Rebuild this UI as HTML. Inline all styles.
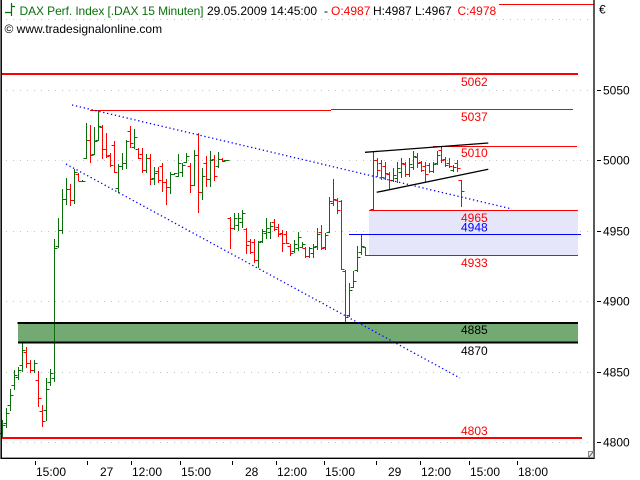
<!DOCTYPE html>
<html><head><meta charset="utf-8"><style>
html,body{margin:0;padding:0;background:#fff;}
svg{display:block;}
text{font-family:"Liberation Sans",Arial,sans-serif;font-size:12px;}
</style></head><body>
<svg width="640" height="480" viewBox="0 0 640 480" xmlns="http://www.w3.org/2000/svg">
<rect x="0" y="0" width="640" height="480" fill="#fff"/>
<!-- grid -->
<g stroke="#c4c4c4" stroke-width="1" stroke-dasharray="1 6">
<line x1="6" y1="19.5" x2="591" y2="19.5"/>
<line x1="6" y1="90.5" x2="591" y2="90.5"/>
<line x1="6" y1="160.5" x2="591" y2="160.5"/>
<line x1="6" y1="231.5" x2="591" y2="231.5"/>
<line x1="6" y1="301.5" x2="591" y2="301.5"/>
<line x1="6" y1="372.5" x2="591" y2="372.5"/>
<line x1="6" y1="442.5" x2="591" y2="442.5"/>
</g>
<!-- lavender zone -->
<rect x="369" y="210.5" width="209" height="45" fill="#e6e6fa"/>
<!-- green zone -->
<rect x="18" y="323" width="560" height="19.5" fill="#73a973"/>
<!-- horizontal lines -->
<line x1="2" y1="74" x2="578" y2="74" stroke="#f00" stroke-width="2"/>
<line x1="90" y1="110.5" x2="331" y2="110.5" stroke="#f00" stroke-width="1"/>
<line x1="331" y1="109.5" x2="573" y2="109.5" stroke="#f00" stroke-width="1"/>
<line x1="433" y1="146.5" x2="577" y2="146.5" stroke="#f00" stroke-width="1"/>
<line x1="369" y1="210.5" x2="578" y2="210.5" stroke="#f00" stroke-width="1"/>
<line x1="368" y1="255.5" x2="578" y2="255.5" stroke="#f00" stroke-width="1"/>
<line x1="2" y1="438" x2="582" y2="438" stroke="#f00" stroke-width="2"/>
<line x1="499" y1="4.5" x2="594" y2="4.5" stroke="#f00" stroke-width="1"/>
<!-- bars -->
<path fill="none" stroke="#0a6e0a" stroke-width="1" d="M2.5 420V438M-.5 433.5h3m0 -8h3M6.5 408V428M3.5 423.5h3m0 -10h3M10.5 389V411M7.5 405.5h3m0 -10h3M14.5 370V390M11.5 385.5h3m0 -10h3M18.5 367V380M15.5 377.5h3m0 -7h3M22.5 343V372M19.5 365.5h3m0 -15h3M34.5 360V373M31.5 370.5h3m0 -7h3M46.5 378V421M43.5 410.5h3m0 -21h3M50.5 369V386M47.5 382.5h3m0 -9h3M54.5 239V382M51.5 378.5h3m0 -130h3M58.5 218V248M55.5 246.5h3m0 -16h3M62.5 189V234M59.5 230.5h3m0 -31h3M66.5 178V205M63.5 199.5h3m0 -10h3M74.5 169V204M71.5 200.5h3m0 -28h3M82.5 180V182M79.5 181.5h6M86.5 123V159M83.5 158.5h3m0 -18h3M94.5 127V155M91.5 154.5h3m0 -13h3M98.5 111V141M95.5 140.5h3m0 -14h3M118.5 164V193M115.5 188.5h3m0 -22h3M122.5 153V170M119.5 166.5h3m0 -3h3M126.5 140V169M123.5 163.5h3m0 -22h3M134.5 129V149M131.5 147.5h3m0 -10h3M146.5 154V173M143.5 170.5h3m0 -12h3M154.5 167V185M151.5 178.5h3m0 -5h3M170.5 172V194M167.5 187.5h3m0 -13h3M174.5 173V175M171.5 174.5h3m0 -1h3M178.5 154V177M175.5 176.5h3m0 -13h3M182.5 163V177M179.5 172.5h3m0 -7h3M186.5 153V163M183.5 162.5h3m0 -6h3M194.5 150V186M191.5 185.5h3m0 -30h3M202.5 168V200M199.5 192.5h3m0 -16h3M210.5 151V187M207.5 179.5h3m0 -19h3M218.5 152V168M215.5 166.5h3m0 -7h3M226.5 160V161M223.5 160.5h6M234.5 213V230M231.5 228.5h3m0 -10h3M238.5 213V231M235.5 225.5h3m0 -7h3M242.5 210V228M239.5 222.5h3m0 -9h3M258.5 241V268M255.5 260.5h3m0 -18h3M262.5 229V243M259.5 241.5h3m0 -10h3M266.5 218V239M263.5 233.5h3m0 -5h3M270.5 222V239M267.5 232.5h3m0 -6h3M294.5 240V253M291.5 251.5h3m0 -7h3M298.5 232V251M295.5 248.5h3m0 -11h3M302.5 242V248M299.5 247.5h3m0 -3h3M309.5 247V258M306.5 256.5h3m0 -8h3M313.5 244V258M310.5 253.5h3m0 -6h3M317.5 228V250M314.5 246.5h3m0 -12h3M325.5 233V250M322.5 247.5h3m0 -12h3M329.5 197V233M326.5 232.5h3m0 -31h3M333.5 179V206M330.5 203.5h3m0 -4h3M349.5 283V317M346.5 315.5h3m0 -25h3M353.5 271V288M350.5 287.5h3m0 -6h3M357.5 246V272M354.5 270.5h3m0 -13h3M361.5 235V255M358.5 252.5h3m0 -6h3M373.5 152V210M370.5 209.5h3m0 -49h3M393.5 168V182M390.5 180.5h3m0 -5h3M397.5 162V183M394.5 178.5h3m0 -10h3M401.5 158V178M398.5 172.5h3m0 -9h3M409.5 158V177M406.5 174.5h3m0 -10h3M413.5 151V170M410.5 167.5h3m0 -11h3M433.5 162V173M430.5 171.5h3m0 -7h3M437.5 151V165M434.5 163.5h3m0 -8h3M453.5 165V172M450.5 170.5h3m0 -3h3"/>
<path fill="none" stroke="#f00" stroke-width="1" d="M26.5 347V368M23.5 352.5h3m0 11h3M30.5 360V373M27.5 363.5h3m0 7h3M38.5 371V407M35.5 380.5h3m0 18h3M42.5 405V427M39.5 411.5h3m0 10h3M70.5 184V206M67.5 189.5h3m0 11h3M78.5 173V181M75.5 174.5h3m0 7h3M90.5 125V163M87.5 140.5h3m0 15h3M102.5 125V159M99.5 127.5h3m0 22h3M106.5 133V158M103.5 149.5h3m0 7h3M110.5 153V167M107.5 155.5h3m0 10h3M114.5 141V173M111.5 145.5h3m0 27h3M130.5 126V148M127.5 131.5h3m0 12h3M138.5 148V159M135.5 149.5h3m0 9h3M142.5 148V173M139.5 154.5h3m0 16h3M150.5 154V185M147.5 158.5h3m0 21h3M158.5 167V183M155.5 171.5h3m0 9h3M162.5 163V192M159.5 166.5h3m0 16h3M166.5 179V205M163.5 182.5h3m0 5h3M190.5 163V193M187.5 166.5h3m0 19h3M198.5 133V213M195.5 155.5h3m0 37h3M206.5 156V187M203.5 163.5h3m0 16h3M214.5 155V181M211.5 159.5h3m0 17h3M222.5 158V162M219.5 159.5h3m0 2h3M230.5 217V249M227.5 218.5h3m0 10h3M246.5 228V254M243.5 229.5h3m0 16h3M250.5 239V254M247.5 241.5h3m0 11h3M254.5 239V263M251.5 242.5h3m0 18h3M274.5 219V231M271.5 222.5h3m0 7h3M278.5 224V237M275.5 227.5h3m0 7h3M282.5 230V252M279.5 233.5h3m0 10h3M286.5 231V244M283.5 234.5h3m0 9h3M290.5 244V256M287.5 246.5h3m0 7h3M305.5 247V258M302.5 248.5h3m0 8h3M321.5 225V250M318.5 232.5h3m0 16h3M337.5 198V214M334.5 200.5h3m0 10h3M341.5 200V270M338.5 201.5h3m0 68h3M345.5 270V323M342.5 271.5h3m0 46h3M365.5 247V256M362.5 247.5h3m0 8h3M377.5 158V177M374.5 160.5h3m0 10h3M381.5 160V180M378.5 163.5h3m0 14h3M385.5 162V180M382.5 166.5h3m0 7h3M389.5 172V190M386.5 174.5h3m0 6h3M405.5 162V177M402.5 164.5h3m0 10h3M417.5 153V168M414.5 157.5h3m0 6h3M421.5 161V172M418.5 162.5h3m0 8h3M425.5 162V182M422.5 166.5h3m0 8h3M429.5 163V173M426.5 165.5h3m0 6h3M441.5 146V163M438.5 150.5h3m0 10h3M445.5 157V167M442.5 159.5h3m0 6h3M449.5 158V168M446.5 163.5h3m0 3h3M457.5 160V172M454.5 163.5h3m0 5h3M461.5 180V207M458.5 180.5h3m0 11h3"/>
<!-- green zone borders -->
<line x1="17.5" y1="323" x2="578" y2="323" stroke="#000" stroke-width="2"/>
<line x1="18" y1="342.5" x2="578" y2="342.5" stroke="#000" stroke-width="2"/>
<!-- blue line 4948 -->
<line x1="349" y1="234.5" x2="581" y2="234.5" stroke="#00f" stroke-width="1"/>
<!-- dotted trend lines -->
<g stroke="#00f" stroke-width="1.3" stroke-dasharray="1.3 2.7" fill="none">
<line x1="72" y1="105" x2="512" y2="209"/>
<line x1="66" y1="164" x2="460" y2="378"/>
</g>
<!-- wedge -->
<line x1="365" y1="152.3" x2="488.3" y2="143" stroke="#000" stroke-width="1.3"/>
<line x1="376.7" y1="192.3" x2="488.3" y2="169.3" stroke="#000" stroke-width="1.3"/>
<!-- level labels -->
<g fill="#f00">
<text x="461" y="86">5062</text>
<text x="461" y="121">5037</text>
<text x="461" y="157">5010</text>
<text x="461" y="222">4965</text>
<text x="461" y="267">4933</text>
<text x="461" y="435">4803</text>
</g>
<text x="461" y="231.5" fill="#00f">4948</text>
<text x="461" y="334" fill="#000">4885</text>
<text x="461" y="355" fill="#000">4870</text>
<!-- frame -->
<line x1="1.2" y1="0" x2="1.2" y2="459" stroke="#000" stroke-width="1.5"/>
<line x1="594" y1="0" x2="594" y2="459" stroke="#000" stroke-width="1.3"/>
<line x1="0.5" y1="458.3" x2="594.6" y2="458.3" stroke="#000" stroke-width="1.3"/>
<rect x="588.5" y="451.5" width="5" height="6" fill="#eee" stroke="#888" stroke-width="1"/>
<line x1="589" y1="457" x2="593" y2="452" stroke="#555" stroke-width="1"/>
<!-- right axis -->
<g stroke="#000" stroke-width="1">
<line x1="597" y1="90.5" x2="601" y2="90.5"/>
<line x1="597" y1="160.5" x2="601" y2="160.5"/>
<line x1="597" y1="231.5" x2="601" y2="231.5"/>
<line x1="597" y1="301.5" x2="601" y2="301.5"/>
<line x1="597" y1="372.5" x2="601" y2="372.5"/>
<line x1="597" y1="442.5" x2="601" y2="442.5"/>
</g>
<g fill="#000">
<text x="599" y="13.5">€</text>
<text x="603" y="94.5">5050</text>
<text x="603" y="164.5">5000</text>
<text x="603" y="235.5">4950</text>
<text x="603" y="305.5">4900</text>
<text x="603" y="376.5">4850</text>
<text x="603" y="446.5">4800</text>
</g>
<!-- x axis -->
<g stroke="#000" stroke-width="1">
<line x1="35.5" y1="461" x2="35.5" y2="465"/>
<line x1="87.5" y1="461" x2="87.5" y2="465"/>
<line x1="131.5" y1="461" x2="131.5" y2="465"/>
<line x1="180.5" y1="461" x2="180.5" y2="465"/>
<line x1="232.5" y1="461" x2="232.5" y2="465"/>
<line x1="276.5" y1="461" x2="276.5" y2="465"/>
<line x1="324.5" y1="461" x2="324.5" y2="465"/>
<line x1="376.5" y1="461" x2="376.5" y2="465"/>
<line x1="420.5" y1="461" x2="420.5" y2="465"/>
<line x1="469.5" y1="461" x2="469.5" y2="465"/>
<line x1="517.5" y1="461" x2="517.5" y2="465"/>
</g>
<g fill="#000">
<text x="36" y="476">15:00</text>
<text x="100" y="476">27</text>
<text x="132" y="476">12:00</text>
<text x="181" y="476">15:00</text>
<text x="245" y="476">28</text>
<text x="277" y="476">12:00</text>
<text x="325" y="476">15:00</text>
<text x="388" y="476">29</text>
<text x="421" y="476">12:00</text>
<text x="470" y="476">15:00</text>
<text x="518" y="476">18:00</text>
</g>
<!-- header -->
<g stroke="#0a6e0a" stroke-width="1.2" fill="none">
<path d="M11.5 3V16M5 12.5H11.5M11.5 6.5H15"/>
</g>
<text x="19.5" y="15" fill="#0b700b" textLength="184" lengthAdjust="spacing">DAX Perf. Index [.DAX 15 Minuten]</text>
<text x="207" y="15" fill="#000">29.05.2009 14:45:00</text>
<text x="324" y="15" fill="#000">-</text>
<text x="331" y="15" fill="#f00">O:4987</text>
<text x="373" y="15" fill="#000">H:4987</text>
<text x="415" y="15" fill="#000">L:4967</text>
<text x="457.5" y="15" fill="#f00">C:4978</text>
<text x="4.5" y="33" fill="#000">© www.tradesignalonline.com</text>
</svg>
</body></html>
